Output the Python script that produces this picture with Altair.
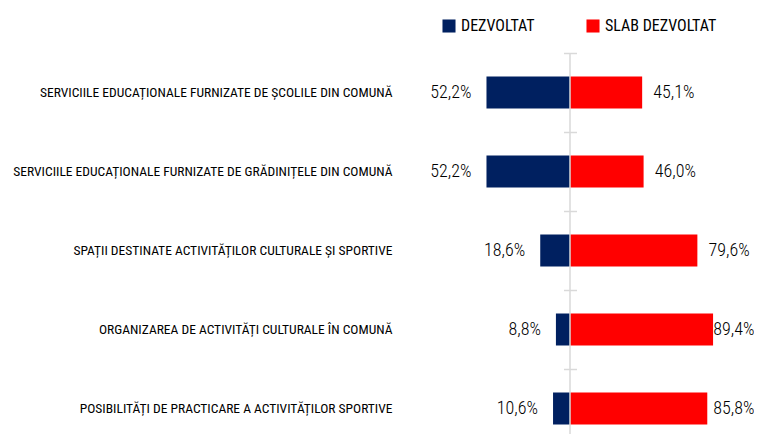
import altair as alt
import pandas as pd

categories = [
    "SERVICIILE EDUCAȚIONALE FURNIZATE DE ȘCOLILE DIN COMUNĂ",
    "SERVICIILE EDUCAȚIONALE FURNIZATE DE GRĂDINIȚELE DIN COMUNĂ",
    "SPAȚII DESTINATE ACTIVITĂȚILOR CULTURALE ȘI SPORTIVE",
    "ORGANIZAREA DE ACTIVITĂȚI CULTURALE ÎN COMUNĂ",
    "POSIBILITĂȚI DE PRACTICARE A ACTIVITĂȚILOR SPORTIVE",
]
series = ["DEZVOLTAT", "SLAB DEZVOLTAT"]
dezvoltat = [52.2, 52.2, 18.6, 8.8, 10.6]
slab_dezvoltat = [45.1, 46.0, 79.6, 89.4, 85.8]
colors = ["#002060", "#FF0000"]

rows = []
for c, d, s in zip(categories, dezvoltat, slab_dezvoltat):
    rows.append({"cat": c, "serie": series[0], "val": -d, "label": f"{d:.1f}%".replace(".", ",")})
    rows.append({"cat": c, "serie": series[1], "val": s, "label": f"{s:.1f}%".replace(".", ",")})
df = pd.DataFrame(rows)

FONT = "Roboto Condensed, DejaVu Sans Condensed, sans-serif"
W, STEP = 354, 79
H = 5 * STEP
XMAX = 115

xscale = alt.Scale(domain=[-106.25, XMAX], nice=False, zero=False)
yscale = alt.Scale(domain=categories, range=[0, H], paddingInner=0, paddingOuter=0)

base = alt.Chart(df)

bars = base.mark_bar(size=32).encode(
    x=alt.X("val:Q", scale=xscale, axis=None),
    y=alt.Y("cat:N", scale=yscale, sort=categories,
            axis=alt.Axis(title=None, domain=False, ticks=False, labelPadding=8,
                          labelFont=FONT, labelFontSize=13.5, labelFontWeight=400,
                          labelColor="#000000", labelLimit=400)),
    color=alt.Color("serie:N", scale=alt.Scale(domain=series, range=colors),
                    legend=alt.Legend(title=None, orient="none", direction="horizontal",
                                      legendX=41, legendY=-35, symbolType="square",
                                      symbolSize=170, symbolStrokeWidth=0,
                                      labelFont=FONT, labelFontSize=16, labelFontWeight=400,
                                      labelColor="#000000",
                                      labelOffset=4, columnPadding=50, padding=0)),
)

left_labels = base.transform_filter(alt.datum.serie == series[0]).mark_text(
    align="right", baseline="middle", dx=-15, font=FONT, fontSize=18, fontWeight=300,
    color="#000000"
).encode(x=alt.X("val:Q", scale=xscale, axis=None),
         y=alt.Y("cat:N", scale=yscale, sort=categories, axis=None), text="label:N")

# right-hand labels: offset past the bar end, kept inside the chart's right edge
right_labels = base.transform_filter(alt.datum.serie == series[1]).transform_calculate(
    lx="min(datum.val + 7, 89.6)"
).mark_text(
    align="left", baseline="middle", font=FONT, fontSize=18, fontWeight=300,
    color="#000000"
).encode(x=alt.X("lx:Q", scale=xscale, axis=None),
         y=alt.Y("cat:N", scale=yscale, sort=categories, axis=None), text="label:N")

center = alt.Chart(pd.DataFrame({"v": [0]})).mark_rule(color="#D9D9D9", strokeWidth=1.5).encode(
    x=alt.X("v:Q", scale=xscale, axis=None), y=alt.value(0), y2=alt.value(H)
)

ticks = base.mark_point(opacity=0).encode(
    y=alt.Y("cat:N", scale=yscale, sort=categories,
            axis=alt.Axis(orient="right", title=None, labels=False, domain=False,
                          ticks=True, tickSize=13, tickColor="#D9D9D9", tickWidth=1.5,
                          bandPosition=0, offset=-190.5)),
)

chart = alt.layer(bars, center, ticks, left_labels, right_labels).resolve_axis(
    y="independent"
).properties(
    width=W, height=H - 14,
    autosize=alt.AutoSizeParams(type="none"),
    padding={"left": 392, "top": 45, "right": 0, "bottom": 0},
    background="#FFFFFF",
).configure_view(stroke=None)

chart.save("out.html", embed_options={"renderer": "svg", "actions": False})
